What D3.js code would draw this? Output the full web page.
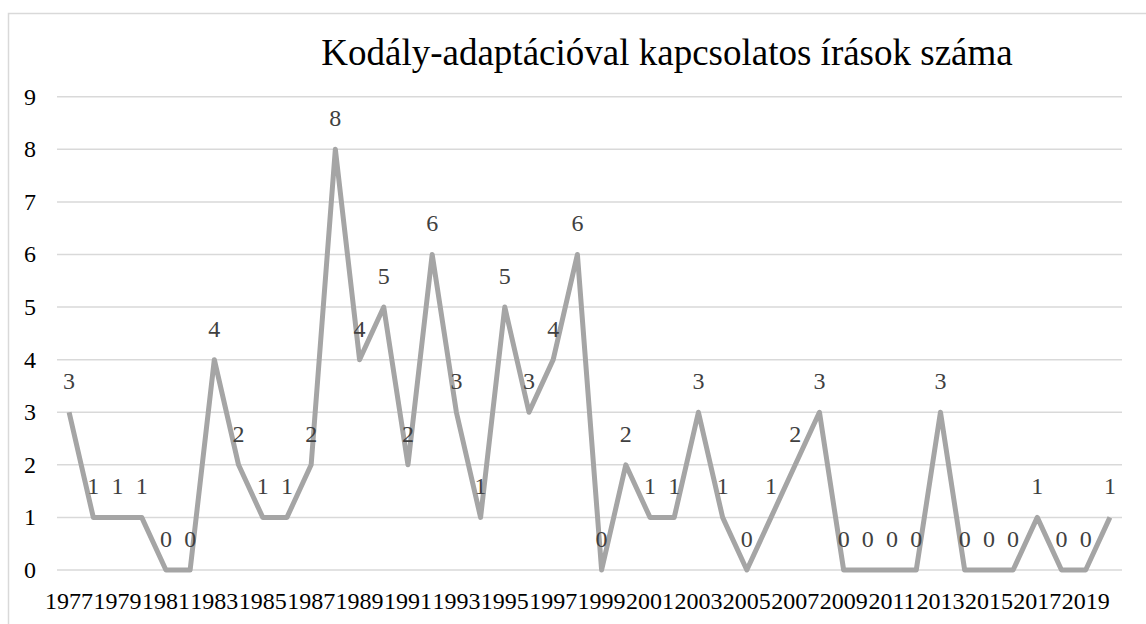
<!DOCTYPE html>
<html>
<head>
<meta charset="utf-8">
<script src="https://cdn.jsdelivr.net/npm/d3@7"></script>
<style>
  html, body { margin: 0; padding: 0; background: #fff; }
</style>
</head>
<body>
<svg id="chart" width="1146" height="624" font-family="'Liberation Serif', 'Times New Roman', Times, 'DejaVu Serif', serif"></svg>
<script>
// ---- data ----------------------------------------------------------------
const title = 'Kodály-adaptációval kapcsolatos írások száma';
const years = d3.range(1977, 2021).map(String);
const counts = [3, 1, 1, 1, 0, 0, 4, 2, 1, 1, 2, 8, 4, 5, 2, 6, 3, 1, 5, 3, 4, 6,
                0, 2, 1, 1, 3, 1, 0, 1, 2, 3, 0, 0, 0, 0, 3, 0, 0, 0, 1, 0, 0, 1];
const yTicks = [0, 1, 2, 3, 4, 5, 6, 7, 8, 9];
const xTickLabels = years.filter((d, i) => i % 2 === 0);

// ---- layout --------------------------------------------------------------
const W = 1146, H = 624;
const plot = { left: 57, right: 1122, top: 96.7, bottom: 570 };

const svg = d3.select('#chart');

// chart area frame (runs off the right/bottom edge like the source)
svg.append('rect')
  .attr('x', 8.5).attr('y', 13.5)
  .attr('width', W).attr('height', H)
  .attr('fill', '#fff')
  .attr('stroke', '#d9d9d9')
  .attr('stroke-width', 1.5);

const x = d3.scaleBand().domain(years).range([plot.left, plot.right]);
const y = d3.scaleLinear().domain([0, 9]).range([plot.bottom, plot.top]);
const cx = d => x(d) + x.bandwidth() / 2;

// gridlines
svg.append('g')
  .selectAll('line')
  .data(yTicks)
  .join('line')
  .attr('x1', plot.left).attr('x2', plot.right)
  .attr('y1', d => y(d)).attr('y2', d => y(d))
  .attr('stroke', '#d9d9d9')
  .attr('stroke-width', 1.5);

// y axis labels
svg.append('g')
  .selectAll('text')
  .data(yTicks)
  .join('text')
  .attr('x', 36)
  .attr('y', d => y(d) + 8)
  .attr('text-anchor', 'end')
  .attr('font-size', 24)
  .attr('fill', '#000')
  .text(d => d);

// x axis labels
svg.append('g')
  .selectAll('text')
  .data(xTickLabels)
  .join('text')
  .attr('x', d => cx(d))
  .attr('y', 609)
  .attr('text-anchor', 'middle')
  .attr('font-size', 24)
  .attr('fill', '#000')
  .text(d => d);

// line
const points = years.map((yr, i) => [yr, counts[i]]);
svg.append('path')
  .datum(points)
  .attr('fill', 'none')
  .attr('stroke', '#a5a5a5')
  .attr('stroke-width', 5)
  .attr('stroke-linejoin', 'round')
  .attr('d', d3.line().x(d => cx(d[0])).y(d => y(d[1])));

// data labels
svg.append('g')
  .selectAll('text')
  .data(points)
  .join('text')
  .attr('x', d => cx(d[0]))
  .attr('y', d => y(d[1]) - 23)
  .attr('text-anchor', 'middle')
  .attr('font-size', 24)
  .attr('fill', '#404040')
  .text(d => d[1]);

// title
svg.append('text')
  .attr('x', 667)
  .attr('y', 65)
  .attr('text-anchor', 'middle')
  .attr('font-size', 37)
  .attr('fill', '#000')
  .text(title);
</script>
</body>
</html>
